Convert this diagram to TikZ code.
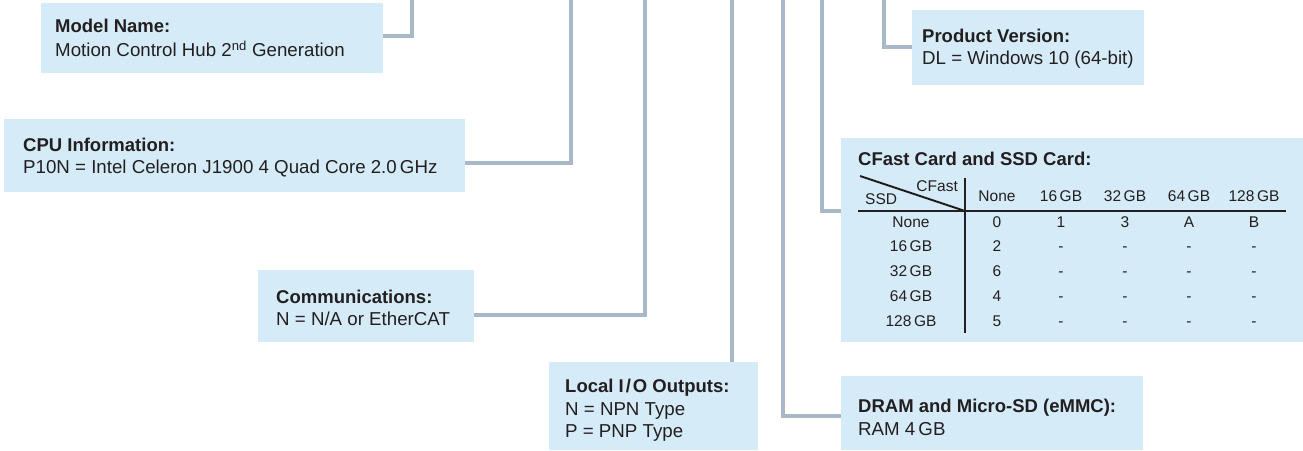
\documentclass[tikz,border=0pt]{standalone}
\usepackage{fontspec}
\setmainfont{Liberation Sans}
\definecolor{boxfill}{HTML}{D5EBF8}
\definecolor{linecol}{HTML}{A9B8C6}
\definecolor{txtcol}{HTML}{231F20}
\begin{document}
\begin{tikzpicture}[x=1pt,y=-1pt,
  box/.style={fill=boxfill, draw=none, inner sep=0pt, outer sep=0pt, anchor=north west},
  conn/.style={draw=linecol, line width=4pt, line join=miter},
  ttl/.style={font=\fontsize{18.5}{20}\selectfont\bfseries, text=txtcol, inner sep=0pt, anchor=base west},
  body/.style={font=\fontsize{18.7}{20}\selectfont, text=txtcol, inner sep=0pt, anchor=base west},
  cell/.style={font=\fontsize{15.5}{17}\selectfont, text=txtcol, inner sep=0pt, anchor=base},
  rulel/.style={draw=txtcol, line width=2pt}]
\useasboundingbox (0,0) rectangle (1303,450);

% boxes
\node[box, minimum width=342, minimum height=70] (model) at (41,3) {};
\node[box, minimum width=461, minimum height=73] (cpu) at (4,119) {};
\node[box, minimum width=216, minimum height=72] (comm) at (258,270) {};
\node[box, minimum width=209, minimum height=88] (lio) at (549,362) {};
\node[box, minimum width=302, minimum height=74] (dram) at (841,376) {};
\node[box, minimum width=462, minimum height=204] (cfast) at (841,138) {};
\node[box, minimum width=232, minimum height=75] (prod) at (912,10) {};

% top ends of connectors
\coordinate (mtop) at (412,-2);
\coordinate (ctop) at (571,-2);
\coordinate (comtop) at (645,-2);
\coordinate (liotop) at (732,-2);
\coordinate (dtop) at (783,-2);
\coordinate (cftop) at (822,-2);
\coordinate (ptop) at (884,-2);

% connectors
\draw[conn] ([yshift=2pt]model.east) -| (mtop);
\draw[conn] ([yshift=-7pt]cpu.east) -| (ctop);
\draw[conn] ([yshift=-9pt]comm.east) -| (comtop);
\draw[conn] (lio.north -| liotop) -- (liotop);
\draw[conn] ([yshift=-3pt]dram.west) -| (dtop);
\draw[conn] ([yshift=29pt]cfast.west) -| (cftop);
\draw[conn] ([yshift=1pt]prod.west) -| (ptop);

% texts
\node[ttl] (modelT) at (55,32) {Model Name:};
\node[body] (modelB) at (55,56.5) {Motion Control Hub 2\textsuperscript{nd} Generation};
\node[ttl] (cpuT) at (23,151) {CPU Information:};
\node[body] (cpuB) at (23,173) {P10N = Intel Celeron J1900 4 Quad Core 2.0\,GHz};
\node[ttl] (commT) at (276,303) {Communications:};
\node[body] (commB) at (276,325) {N = N/A or EtherCAT};
\node[ttl] (lioT) at (565,392) {Local I\kern2pt/\kern2pt O Outputs:};
\node[body] (lioB1) at (565,415) {N = NPN Type};
\node[body] (lioB2) at (565,437) {P = PNP Type};
\node[ttl] (dramT) at (858,412) {DRAM and Micro-SD (eMMC):};
\node[body] (dramB) at (858,435) {RAM 4\,GB};
\node[ttl] (prodT) at (922,42) {Product Version:};
\node[body] (prodB) at (922,64) {DL = Windows 10 (64-bit)};
\node[ttl] (cfT) at (858,165) {CFast Card and SSD Card:};

% table
\coordinate (dg1) at (860,176);
\coordinate (dg2) at (965,211);
\coordinate (vt) at (965,178);
\coordinate (vb) at (965,333);
\coordinate (hl) at (858,211);
\coordinate (hr) at (1286,211);
\draw[rulel] (dg1) -- (dg2);
\draw[rulel] (vt) -- (vb);
\draw[rulel] (hl) -- (hr);
\node[cell, anchor=base east] (cfl) at (958,191.5) {CFast};
\node[cell, anchor=base west] (ssdl) at (865,204) {SSD};
\foreach \x/\lab [count=\i] in {997/None,1061/16\,GB,1125/32\,GB,1189/64\,GB,1254/128\,GB}
  \node[cell] (h\i) at (\x,201) {\lab};
\foreach \y/\lab [count=\i] in {227/None,251.7/16\,GB,276.7/32\,GB,301.7/64\,GB,326.7/128\,GB}
  \node[cell] (r\i) at (911,\y) {\lab};
\foreach \x/\v [count=\i] in {997/0,1061/1,1125/3,1189/A,1254/B}
  \node[cell] (v1\i) at (\x,227) {\v};
\foreach \y/\v [count=\j from 2] in {251.7/2,276.7/6,301.7/4,326.7/5}
  \node[cell] (v\j1) at (997,\y) {\v};
\foreach \y [count=\j from 2] in {251.7,276.7,301.7,326.7}
  \foreach \x [count=\i from 2] in {1061,1125,1189,1254}
    \node[cell] (v\j\i) at (\x,\y) {-};
\end{tikzpicture}
\end{document}
